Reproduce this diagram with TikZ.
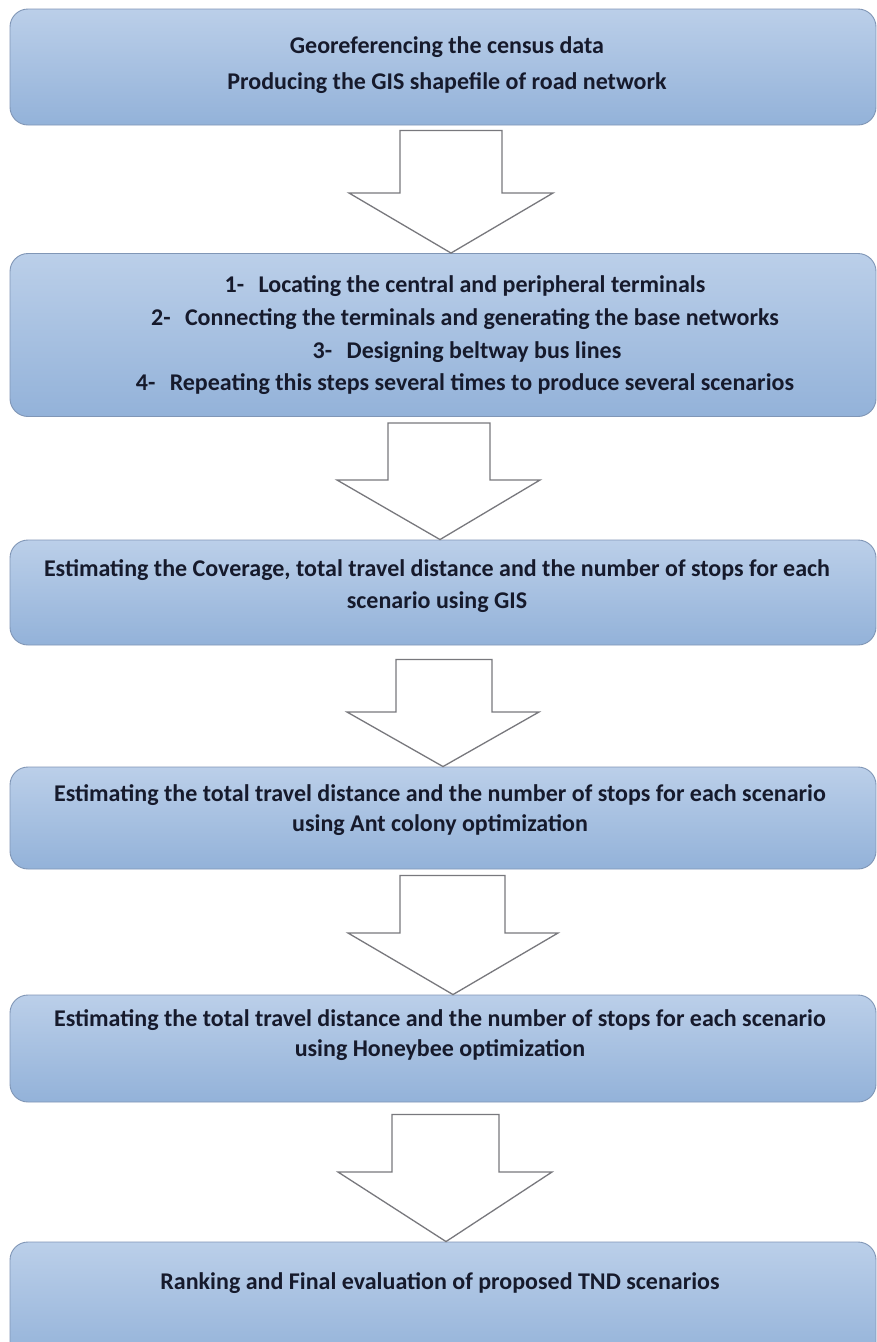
\documentclass[tikz,border=0pt]{standalone}
\usepackage{fontspec}
\setmainfont{Carlito}
\usetikzlibrary{calc}
\definecolor{boxtop}{RGB}{187,207,233}
\definecolor{boxbot}{RGB}{147,178,217}
\definecolor{boxline}{RGB}{128,150,182}
\definecolor{txt}{RGB}{22,26,44}
\definecolor{arrline}{RGB}{120,120,125}
\newcommand\blockarrow[9]{%
  \draw[blk] let \p1=(#1.south), \p2=(#2.north) in
    (#4,\y1-#3) -- (#5,\y1-#3) -- (#5,-#8) -- (#7,-#8) -- (#9,\y2)
    -- (#6,-#8) -- (#4,-#8) -- cycle;}
\begin{document}
\begin{tikzpicture}[x=1pt,y=1pt,
  box/.style={draw=boxline, line width=0.9pt, rounded corners=18pt,
    top color=boxtop, bottom color=boxbot, minimum width=866pt, inner sep=0pt},
  lbl/.style={text=txt, font=\fontsize{24}{30}\selectfont\bfseries, align=center, inner sep=0pt},
  blk/.style={draw=arrline, fill=white, line width=1.3pt, line join=miter}]
\clip (0,0) rectangle (877,-1342);
\fill[white] (0,0) rectangle (877,-1342);
% boxes
\node[box, minimum height=116pt] (b1) at (443,-67) {};
\node[box, minimum height=163pt] (b2) at (443,-335) {};
\node[box, minimum height=105pt] (b3) at (443,-592.5) {};
\node[box, minimum height=102pt] (b4) at (443,-818) {};
\node[box, minimum height=107pt] (b5) at (443,-1048.5) {};
\node[box, minimum height=120pt] (b6) at (443,-1302) {};
% texts
\node[lbl, font=\fontsize{24}{36}\selectfont\bfseries] (t1) at (447,-65) {Georeferencing the census data\\Producing the GIS shapefile of road network};
\node[lbl, anchor=base] (t2a) at (465,-292) {1-\hspace{0.6em}Locating the central and peripheral terminals};
\node[lbl, anchor=base] (t2b) at (465,-325) {2-\hspace{0.6em}Connecting the terminals and generating the base networks};
\node[lbl, anchor=base] (t2c) at (467,-358) {3-\hspace{0.6em}Designing beltway bus lines};
\node[lbl, anchor=base] (t2d) at (465,-390) {4-\hspace{0.6em}Repeating this steps several times to produce several scenarios};
\node[lbl, font=\fontsize{24}{32}\selectfont\bfseries] (t3) at (437,-586) {Estimating the Coverage, total travel distance and the number of stops for each\\scenario using GIS};
\node[lbl] (t4) at (440,-810) {Estimating the total travel distance and the number of stops for each scenario\\using Ant colony optimization};
\node[lbl] (t5) at (440,-1035) {Estimating the total travel distance and the number of stops for each scenario\\using Honeybee optimization};
\node[lbl] (t6) at (440,-1283) {Ranking and Final evaluation of proposed TND scenarios};
% block arrows
\blockarrow{b1}{b2}{5}{400}{502}{349}{553}{193}{451}
\blockarrow{b2}{b3}{6}{388}{490}{337}{540}{480}{440}
\blockarrow{b3}{b4}{14}{396}{492}{347}{539}{712}{443}
\blockarrow{b4}{b5}{6}{400}{505}{348}{558}{933}{453}
\blockarrow{b5}{b6}{12}{392}{499}{338}{552}{1172}{446}
\end{tikzpicture}
\end{document}
